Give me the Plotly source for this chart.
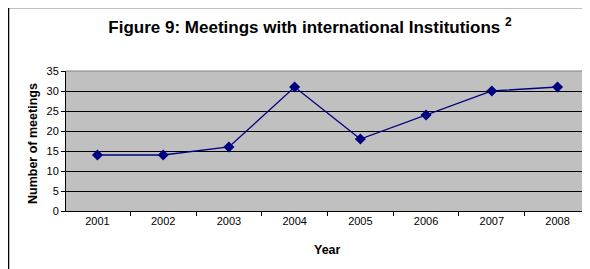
import plotly.graph_objects as go

years = ["2001", "2002", "2003", "2004", "2005", "2006", "2007", "2008"]
meetings = [14, 14, 16, 31, 18, 24, 30, 31]
y_ticks = [0, 5, 10, 15, 20, 25, 30, 35]

# page body has an 8px margin; work in reference pixels and shift
OFF = 8
W, H = 590 - OFF, 269 - OFF
PL, PR, PT, PB = 66, 589, 71, 211  # plot area in reference pixels
L, R, T, B = PL - OFF, W - (PR - OFF), PT - OFF, H - (PB - OFF)

def px_x(px):
    return (px - PL) / (PR - PL)

def px_y(py):
    return (PB - py) / (PB - PT)

font = "Liberation Sans, Arial, sans-serif"

fig = go.Figure()
fig.add_trace(go.Scatter(
    x=years, y=meetings, mode="lines+markers",
    line=dict(color="#000080", width=1.3),
    marker=dict(symbol="diamond", size=8.5, color="#000080"),
    showlegend=False, hoverinfo="x+y",
))

fig.update_layout(
    width=W, height=H,
    margin=dict(l=L, r=R, t=T, b=B),
    paper_bgcolor="white",
    plot_bgcolor="#c0c0c0",
    font=dict(family=font, size=11, color="black"),
    title=dict(
        text="<b>Figure 9: Meetings with international Institutions <sup>2</sup></b>",
        x=(310 - OFF) / W, xanchor="center",
        y=1 - (27 - OFF) / H, yanchor="middle",
        font=dict(family=font, size=17, color="black"),
    ),
    xaxis=dict(
        type="category", showline=True, linecolor="black", linewidth=1,
        ticks="outside", tickson="boundaries", ticklen=4, tickcolor="black",
        showgrid=False, tickfont=dict(size=11), fixedrange=True,
    ),
    yaxis=dict(
        range=[0, 35], tickvals=y_ticks, showline=True, linecolor="black",
        linewidth=1, ticks="outside", ticklen=4, tickcolor="black",
        showgrid=True, gridcolor="black", gridwidth=1, zeroline=False,
        tickfont=dict(size=11), fixedrange=True,
    ),
    annotations=[
        dict(text="<b>Number of meetings</b>", xref="paper", yref="paper",
             x=px_x(33), y=px_y(144), textangle=-90, showarrow=False,
             xanchor="center", yanchor="middle",
             font=dict(family=font, size=12.5, color="black")),
        dict(text="<b>Year</b>", xref="paper", yref="paper",
             x=px_x(327), y=px_y(250), showarrow=False,
             xanchor="center", yanchor="middle",
             font=dict(family=font, size=12.5, color="black")),
    ],
    shapes=[
        dict(type="line", xref="paper", yref="paper", x0=0, x1=1, y0=1, y1=1,
             line=dict(color="#808080", width=1), layer="above"),
        dict(type="line", xref="paper", yref="paper", x0=1, x1=1, y0=0, y1=1,
             line=dict(color="#808080", width=1), layer="above"),
        dict(type="rect", xref="paper", yref="paper",
             x0=px_x(8.5), x1=px_x(620), y0=px_y(300), y1=px_y(7.5),
             line=dict(color="black", width=1.5), fillcolor="rgba(0,0,0,0)",
             layer="above"),
    ],
)

fig.write_html("out.html")
